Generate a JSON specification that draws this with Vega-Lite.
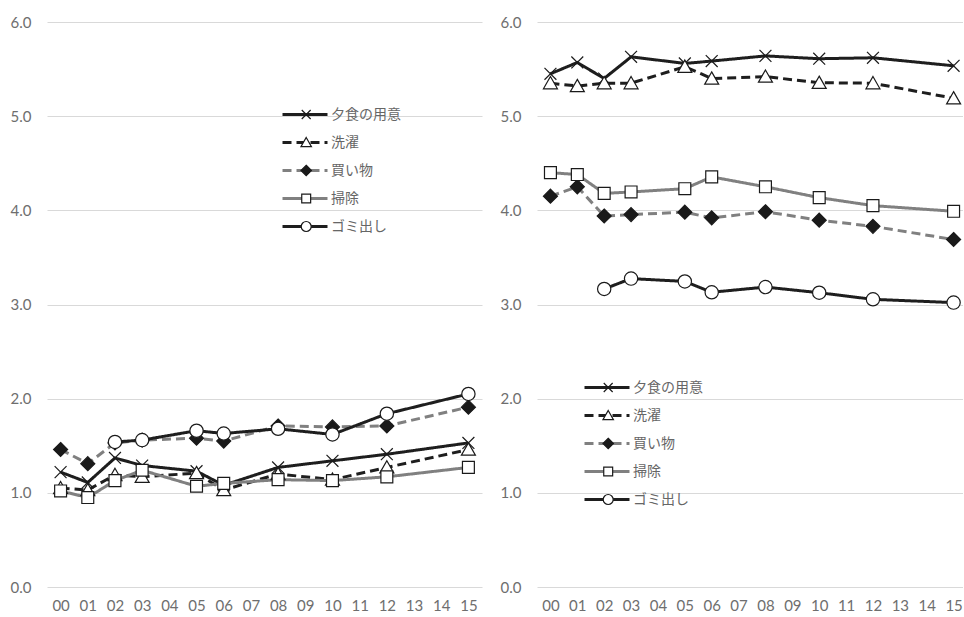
{
  "$schema": "https://vega.github.io/schema/vega-lite/v6.json",
  "background": "white",
  "padding": {"left": 10, "top": 15, "right": 0, "bottom": 0},
  "config": {
    "view": {"stroke": null},
    "axis": {"labelFont": "Lato", "labelFontSize": 15, "labelColor": "#6e6e6e"}
  },
  "data": {"values": [
    {"p":"L","t":0,"s":"夕食の用意","v":1.22},{"p":"L","t":1,"s":"夕食の用意","v":1.11},{"p":"L","t":2,"s":"夕食の用意","v":1.37},{"p":"L","t":3,"s":"夕食の用意","v":1.29},{"p":"L","t":5,"s":"夕食の用意","v":1.23},{"p":"L","t":6,"s":"夕食の用意","v":1.08},{"p":"L","t":8,"s":"夕食の用意","v":1.27},{"p":"L","t":10,"s":"夕食の用意","v":1.34},{"p":"L","t":12,"s":"夕食の用意","v":1.41},{"p":"L","t":15,"s":"夕食の用意","v":1.53},
    {"p":"L","t":0,"s":"洗濯","v":1.05},{"p":"L","t":1,"s":"洗濯","v":1.03},{"p":"L","t":2,"s":"洗濯","v":1.19},{"p":"L","t":3,"s":"洗濯","v":1.17},{"p":"L","t":5,"s":"洗濯","v":1.21},{"p":"L","t":6,"s":"洗濯","v":1.03},{"p":"L","t":8,"s":"洗濯","v":1.2},{"p":"L","t":10,"s":"洗濯","v":1.14},{"p":"L","t":12,"s":"洗濯","v":1.27},{"p":"L","t":15,"s":"洗濯","v":1.46},
    {"p":"L","t":0,"s":"買い物","v":1.46},{"p":"L","t":1,"s":"買い物","v":1.31},{"p":"L","t":2,"s":"買い物","v":1.53},{"p":"L","t":3,"s":"買い物","v":1.56},{"p":"L","t":5,"s":"買い物","v":1.58},{"p":"L","t":6,"s":"買い物","v":1.55},{"p":"L","t":8,"s":"買い物","v":1.71},{"p":"L","t":10,"s":"買い物","v":1.7},{"p":"L","t":12,"s":"買い物","v":1.71},{"p":"L","t":15,"s":"買い物","v":1.91},
    {"p":"L","t":0,"s":"掃除","v":1.02},{"p":"L","t":1,"s":"掃除","v":0.95},{"p":"L","t":2,"s":"掃除","v":1.13},{"p":"L","t":3,"s":"掃除","v":1.24},{"p":"L","t":5,"s":"掃除","v":1.07},{"p":"L","t":6,"s":"掃除","v":1.1},{"p":"L","t":8,"s":"掃除","v":1.14},{"p":"L","t":10,"s":"掃除","v":1.13},{"p":"L","t":12,"s":"掃除","v":1.17},{"p":"L","t":15,"s":"掃除","v":1.27},
    {"p":"L","t":2,"s":"ゴミ出し","v":1.54},{"p":"L","t":3,"s":"ゴミ出し","v":1.56},{"p":"L","t":5,"s":"ゴミ出し","v":1.66},{"p":"L","t":6,"s":"ゴミ出し","v":1.63},{"p":"L","t":8,"s":"ゴミ出し","v":1.68},{"p":"L","t":10,"s":"ゴミ出し","v":1.62},{"p":"L","t":12,"s":"ゴミ出し","v":1.84},{"p":"L","t":15,"s":"ゴミ出し","v":2.05},
    {"p":"R","t":0,"s":"夕食の用意","v":5.45},{"p":"R","t":1,"s":"夕食の用意","v":5.57},{"p":"R","t":2,"s":"夕食の用意","v":5.4},{"p":"R","t":3,"s":"夕食の用意","v":5.63},{"p":"R","t":5,"s":"夕食の用意","v":5.56},{"p":"R","t":6,"s":"夕食の用意","v":5.585},{"p":"R","t":8,"s":"夕食の用意","v":5.64},{"p":"R","t":10,"s":"夕食の用意","v":5.61},{"p":"R","t":12,"s":"夕食の用意","v":5.62},{"p":"R","t":15,"s":"夕食の用意","v":5.535},
    {"p":"R","t":0,"s":"洗濯","v":5.35},{"p":"R","t":1,"s":"洗濯","v":5.32},{"p":"R","t":2,"s":"洗濯","v":5.35},{"p":"R","t":3,"s":"洗濯","v":5.35},{"p":"R","t":5,"s":"洗濯","v":5.525},{"p":"R","t":6,"s":"洗濯","v":5.4},{"p":"R","t":8,"s":"洗濯","v":5.42},{"p":"R","t":10,"s":"洗濯","v":5.355},{"p":"R","t":12,"s":"洗濯","v":5.35},{"p":"R","t":15,"s":"洗濯","v":5.19},
    {"p":"R","t":0,"s":"買い物","v":4.15},{"p":"R","t":1,"s":"買い物","v":4.25},{"p":"R","t":2,"s":"買い物","v":3.94},{"p":"R","t":3,"s":"買い物","v":3.955},{"p":"R","t":5,"s":"買い物","v":3.98},{"p":"R","t":6,"s":"買い物","v":3.92},{"p":"R","t":8,"s":"買い物","v":3.985},{"p":"R","t":10,"s":"買い物","v":3.895},{"p":"R","t":12,"s":"買い物","v":3.83},{"p":"R","t":15,"s":"買い物","v":3.69},
    {"p":"R","t":0,"s":"掃除","v":4.4},{"p":"R","t":1,"s":"掃除","v":4.38},{"p":"R","t":2,"s":"掃除","v":4.18},{"p":"R","t":3,"s":"掃除","v":4.195},{"p":"R","t":5,"s":"掃除","v":4.23},{"p":"R","t":6,"s":"掃除","v":4.355},{"p":"R","t":8,"s":"掃除","v":4.25},{"p":"R","t":10,"s":"掃除","v":4.135},{"p":"R","t":12,"s":"掃除","v":4.05},{"p":"R","t":15,"s":"掃除","v":3.99},
    {"p":"R","t":2,"s":"ゴミ出し","v":3.165},{"p":"R","t":3,"s":"ゴミ出し","v":3.275},{"p":"R","t":5,"s":"ゴミ出し","v":3.245},{"p":"R","t":6,"s":"ゴミ出し","v":3.13},{"p":"R","t":8,"s":"ゴミ出し","v":3.185},{"p":"R","t":10,"s":"ゴミ出し","v":3.125},{"p":"R","t":12,"s":"ゴミ出し","v":3.055},{"p":"R","t":15,"s":"ゴミ出し","v":3.02}
  ]},
  "spacing": 18,
  "resolve": {
    "scale": {"color": "independent", "strokeDash": "independent", "fill": "independent", "shape": "independent"},
    "legend": {"color": "independent", "strokeDash": "independent", "fill": "independent", "shape": "independent"}
  },
  "hconcat": [
    {
      "width": 435,
      "height": 565,
      "transform": [{"filter": "datum.p === 'L'"}],
      "encoding": {
        "x": {"field": "t", "type": "quantitative", "scale": {"domain": [-0.5, 15.5], "nice": false, "zero": false},
          "axis": {"values": [0,1,2,3,4,5,6,7,8,9,10,11,12,13,14,15], "format": "02d", "title": null, "grid": false, "domain": false, "ticks": false, "tickSize": 0, "labelPadding": 11}},
        "y": {"field": "v", "type": "quantitative", "scale": {"domain": [0, 6], "nice": false, "zero": true},
          "axis": {"values": [0,1,2,3,4,5,6], "format": ".1f", "title": null, "domain": false, "ticks": false, "tickSize": 0, "labelPadding": 16, "grid": true, "gridColor": "#d9d9d9", "gridWidth": 1}}
      },
      "layer": [
        {
          "mark": {"type": "line", "strokeWidth": 3},
          "encoding": {
            "color": {"field": "s", "type": "nominal",
              "scale": {"domain": ["夕食の用意","洗濯","買い物","掃除","ゴミ出し"], "range": ["#1e1e1e","#1e1e1e","#808080","#808080","#1e1e1e"]},
              "legend": {"orient": "none", "legendX": 234, "legendY": 83.5, "title": null, "symbolType": "stroke", "symbolSize": 2025, "symbolStrokeWidth": 3, "symbolOpacity": 1, "labelFont": "Noto Sans CJK JP", "labelFontSize": 14, "labelColor": "#666666", "labelOffset": 2, "clipHeight": 18, "rowPadding": 10, "padding": 0}},
            "strokeDash": {"field": "s", "type": "nominal",
              "scale": {"domain": ["夕食の用意","洗濯","買い物","掃除","ゴミ出し"], "range": [[1,0],[9,5],[9,5],[1,0],[1,0]]},
              "legend": {"orient": "none", "legendX": 234, "legendY": 83.5, "title": null, "symbolType": "stroke", "symbolSize": 2025, "symbolStrokeWidth": 3, "symbolOpacity": 1, "labelFont": "Noto Sans CJK JP", "labelFontSize": 14, "labelColor": "#666666", "labelOffset": 2, "clipHeight": 18, "rowPadding": 10, "padding": 0}}
          }
        },
        {
          "mark": {"type": "point", "filled": true, "size": 196, "stroke": "#1a1a1a", "strokeWidth": 1.2, "opacity": 1},
          "encoding": {
            "shape": {"field": "s", "type": "nominal",
              "scale": {"domain": ["夕食の用意","洗濯","買い物","掃除","ゴミ出し","-"], "range": ["M-0.85,-0.85L0.85,0.85M-0.85,0.85L0.85,-0.85", "M0,-0.95L1,0.8L-1,0.8Z", "M0,-1L1,0L0,1L-1,0Z", "M-0.85,-0.85L0.85,-0.85L0.85,0.85L-0.85,0.85Z", "M-0.95,0A0.95,0.95,0,1,0,0.95,0A0.95,0.95,0,1,0,-0.95,0Z", "circle"]},
              "legend": {"orient": "none", "legendX": 252.2, "legendY": 83.5, "title": null, "values": ["夕食の用意","洗濯","買い物","掃除","ゴミ出し"], "symbolSize": 110, "symbolStrokeWidth": 1.2, "symbolOpacity": 1, "labelExpr": "''", "labelFontSize": 14, "clipHeight": 18, "rowPadding": 10, "padding": 0,
                "encode": {"symbols": {"update": {"stroke": {"value": "#1a1a1a"}, "strokeWidth": {"value": 1.2}}}}}},
            "fill": {"field": "s", "type": "nominal",
              "scale": {"domain": ["夕食の用意","洗濯","買い物","掃除","ゴミ出し","-"], "range": ["#ffffff","#ffffff","#1a1a1a","#ffffff","#ffffff","#ffffff"]},
              "legend": {"orient": "none", "legendX": 252.2, "legendY": 83.5, "title": null, "values": ["夕食の用意","洗濯","買い物","掃除","ゴミ出し"], "symbolSize": 110, "symbolStrokeWidth": 1.2, "symbolOpacity": 1, "labelExpr": "''", "labelFontSize": 14, "clipHeight": 18, "rowPadding": 10, "padding": 0,
                "encode": {"symbols": {"update": {"stroke": {"value": "#1a1a1a"}, "strokeWidth": {"value": 1.2}}}}}}
          }
        }
      ]
    },
    {
      "width": 426,
      "height": 565,
      "transform": [{"filter": "datum.p === 'R'"}],
      "encoding": {
        "x": {"field": "t", "type": "quantitative", "scale": {"domain": [-0.5, 15.35], "nice": false, "zero": false},
          "axis": {"values": [0,1,2,3,4,5,6,7,8,9,10,11,12,13,14,15], "format": "02d", "title": null, "grid": false, "domain": false, "ticks": false, "tickSize": 0, "labelPadding": 11, "labelFlush": false}},
        "y": {"field": "v", "type": "quantitative", "scale": {"domain": [0, 6], "nice": false, "zero": true},
          "axis": {"values": [0,1,2,3,4,5,6], "format": ".1f", "title": null, "domain": false, "ticks": false, "tickSize": 0, "labelPadding": 16, "grid": true, "gridColor": "#d9d9d9", "gridWidth": 1}}
      },
      "layer": [
        {
          "mark": {"type": "line", "strokeWidth": 3},
          "encoding": {
            "color": {"field": "s", "type": "nominal",
              "scale": {"domain": ["夕食の用意","洗濯","買い物","掃除","ゴミ出し"], "range": ["#1e1e1e","#1e1e1e","#808080","#808080","#1e1e1e"]},
              "legend": {"orient": "none", "legendX": 46, "legendY": 356.5, "title": null, "symbolType": "stroke", "symbolSize": 2025, "symbolStrokeWidth": 3, "symbolOpacity": 1, "labelFont": "Noto Sans CJK JP", "labelFontSize": 14, "labelColor": "#666666", "labelOffset": 2, "clipHeight": 18, "rowPadding": 10, "padding": 0}},
            "strokeDash": {"field": "s", "type": "nominal",
              "scale": {"domain": ["夕食の用意","洗濯","買い物","掃除","ゴミ出し"], "range": [[1,0],[9,5],[9,5],[1,0],[1,0]]},
              "legend": {"orient": "none", "legendX": 46, "legendY": 356.5, "title": null, "symbolType": "stroke", "symbolSize": 2025, "symbolStrokeWidth": 3, "symbolOpacity": 1, "labelFont": "Noto Sans CJK JP", "labelFontSize": 14, "labelColor": "#666666", "labelOffset": 2, "clipHeight": 18, "rowPadding": 10, "padding": 0}}
          }
        },
        {
          "mark": {"type": "point", "filled": true, "size": 196, "stroke": "#1a1a1a", "strokeWidth": 1.2, "opacity": 1},
          "encoding": {
            "shape": {"field": "s", "type": "nominal",
              "scale": {"domain": ["夕食の用意","洗濯","買い物","掃除","ゴミ出し","-"], "range": ["M-0.85,-0.85L0.85,0.85M-0.85,0.85L0.85,-0.85", "M0,-0.95L1,0.8L-1,0.8Z", "M0,-1L1,0L0,1L-1,0Z", "M-0.85,-0.85L0.85,-0.85L0.85,0.85L-0.85,0.85Z", "M-0.95,0A0.95,0.95,0,1,0,0.95,0A0.95,0.95,0,1,0,-0.95,0Z", "circle"]},
              "legend": {"orient": "none", "legendX": 64.2, "legendY": 356.5, "title": null, "values": ["夕食の用意","洗濯","買い物","掃除","ゴミ出し"], "symbolSize": 110, "symbolStrokeWidth": 1.2, "symbolOpacity": 1, "labelExpr": "''", "labelFontSize": 14, "clipHeight": 18, "rowPadding": 10, "padding": 0,
                "encode": {"symbols": {"update": {"stroke": {"value": "#1a1a1a"}, "strokeWidth": {"value": 1.2}}}}}},
            "fill": {"field": "s", "type": "nominal",
              "scale": {"domain": ["夕食の用意","洗濯","買い物","掃除","ゴミ出し","-"], "range": ["#ffffff","#ffffff","#1a1a1a","#ffffff","#ffffff","#ffffff"]},
              "legend": {"orient": "none", "legendX": 64.2, "legendY": 356.5, "title": null, "values": ["夕食の用意","洗濯","買い物","掃除","ゴミ出し"], "symbolSize": 110, "symbolStrokeWidth": 1.2, "symbolOpacity": 1, "labelExpr": "''", "labelFontSize": 14, "clipHeight": 18, "rowPadding": 10, "padding": 0,
                "encode": {"symbols": {"update": {"stroke": {"value": "#1a1a1a"}, "strokeWidth": {"value": 1.2}}}}}}
          }
        }
      ]
    }
  ]
}
